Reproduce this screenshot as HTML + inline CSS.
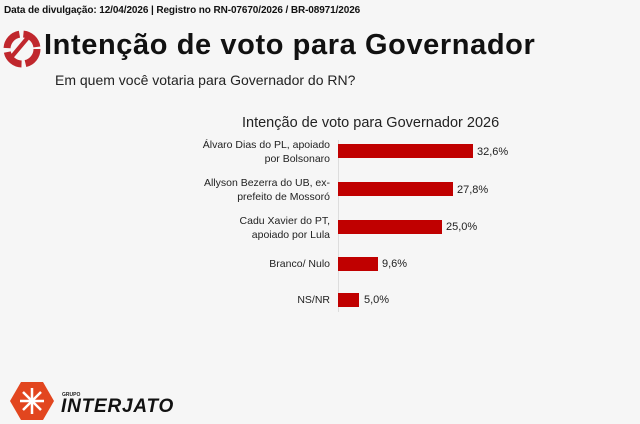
<!DOCTYPE html>
<html><head><meta charset="utf-8"><style>
body{margin:0;width:640px;height:424px;background:#f6f6f6;position:relative;overflow:hidden;font-family:"Liberation Sans",sans-serif}
.a{position:absolute;white-space:nowrap}
.bar{position:absolute;left:338px;background:#c00000;height:14px}
.lab{position:absolute;right:310px;text-align:right;font-size:10.5px;line-height:14px;color:#222}
.val{position:absolute;font-size:11px;color:#222;line-height:14px}
</style></head><body>
<div class="a" style="left:4px;top:5px;font-size:10px;font-weight:bold;color:#111;letter-spacing:-0.1px">Data de divulgação: 12/04/2026 | Registro no RN-07670/2026 / BR-08971/2026</div>
<svg class="a" style="left:2px;top:28px" width="40" height="42" viewBox="0 0 40 42">
<circle cx="20" cy="21" r="15" fill="none" stroke="#c0272d" stroke-width="7" stroke-dasharray="20 4"/>
<path d="M8 34 L30 8 L26 6 L6 30Z" fill="#c0272d"/>
</svg>
<div class="a" style="left:44px;top:29px;font-size:29px;font-weight:bold;color:#111;letter-spacing:0.6px">Intenção de voto para Governador</div>
<div class="a" style="left:55px;top:72px;font-size:14px;color:#222">Em quem você votaria para Governador do RN?</div>
<div class="a" style="left:242px;top:115px;font-size:14.5px;color:#222">Intenção de voto para Governador 2026</div>
<div class="a" style="left:338px;top:140px;width:1px;height:172px;background:#ddd"></div>
<div class="lab" style="top:138px">Álvaro Dias do PL, apoiado<br>por Bolsonaro</div>
<div class="bar" style="top:144px;width:135px"></div><div class="val" style="left:477px;top:145px">32,6%</div>
<div class="lab" style="top:176px">Allyson Bezerra do UB, ex-<br>prefeito de Mossoró</div>
<div class="bar" style="top:182px;width:115px"></div><div class="val" style="left:457px;top:183px">27,8%</div>
<div class="lab" style="top:214px">Cadu Xavier do PT,<br>apoiado por Lula</div>
<div class="bar" style="top:220px;width:104px"></div><div class="val" style="left:446px;top:220px">25,0%</div>
<div class="lab" style="top:257px">Branco/ Nulo</div>
<div class="bar" style="top:257px;width:40px"></div><div class="val" style="left:382px;top:257px">9,6%</div>
<div class="lab" style="top:293px">NS/NR</div>
<div class="bar" style="top:293px;width:21px"></div><div class="val" style="left:364px;top:293px">5,0%</div>
<svg class="a" style="left:9px;top:381px" width="46" height="40" viewBox="0 0 46 40">
<polygon points="12,1 34,1 45,20 34,39 12,39 1,20" fill="#e2461f"/>
<g stroke="#fff" stroke-width="2.5"><line x1="23" y1="7" x2="23" y2="33"/><line x1="11" y1="20" x2="35" y2="20"/><line x1="14" y1="11" x2="32" y2="29"/><line x1="32" y1="11" x2="14" y2="29"/></g>
</svg>
<div class="a" style="left:62px;top:392px;font-size:5px;font-weight:bold;color:#222">GRUPO</div>
<div class="a" style="left:61px;top:396px;font-size:19px;font-weight:bold;font-style:italic;color:#111;letter-spacing:0.8px">INTERJATO</div>
</body></html>
